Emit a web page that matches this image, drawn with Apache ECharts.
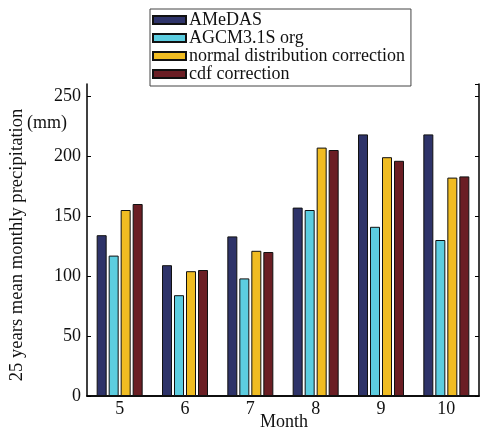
<!DOCTYPE html>
<html><head><meta charset="utf-8">
<script src="https://cdn.jsdelivr.net/npm/echarts@6/dist/echarts.min.js"></script>
<style>html,body{margin:0;padding:0;background:#fff}#c{width:480px;height:430px}</style>
</head><body><div id="c"></div>
<script>
const months = ['5','6','7','8','9','10'];
const amedas = [134, 109, 133, 157, 218, 218];
const agcmOrg = [117, 84, 98, 155, 141, 130];
const normalCorr = [155, 104, 121, 207, 199, 182];
const cdfCorr = [160, 105, 120, 205, 196, 183];
const seriesNames = ['AMeDAS','AGCM3.1S org','normal distribution correction','cdf correction'];
const yTitle = '25 years mean monthly precipitation';
const yUnit = '(mm)';
const xTitle = 'Month';
const colors = ['#2e3369','#5ccde0','#f0bc22','#6b1e24'];
const font = 'Liberation Serif';
const chart = echarts.init(document.getElementById('c'));
const mk = (name, data, i) => ({
  name, type:'bar', data, barWidth:10, barGap:'20%',
  itemStyle:{color:colors[i], borderColor:'#111', borderWidth:1},
  xAxisIndex:0, yAxisIndex:0
});
chart.setOption({
  animation:false,
  textStyle:{fontFamily:font},
  legend:{
    orient:'vertical', left:150, top:9, padding:[2,6,3,2],
    itemWidth:33, itemHeight:8, itemGap:0, icon:'rect',
    borderColor:'#444', borderWidth:1,
    textStyle:{fontFamily:font, fontSize:18, color:'#111', lineHeight:17.5, padding:[0,0,0,-2]},
    data:seriesNames
  },
  grid:{left:87, right:1, top:84, bottom:34, outerBoundsMode:'none', containLabel:false},
  xAxis:[{
    type:'category', data:months, position:'bottom',
    axisLine:{lineStyle:{color:'#000', width:1.5}},
    axisTick:{alignWithLabel:true, inside:true, length:4, lineStyle:{color:'#000'}},
    axisLabel:{fontFamily:font, fontSize:18, color:'#111', margin:4}
  },{
    type:'category', data:months, position:'top',
    axisLine:{lineStyle:{color:'#000', width:1.5}},
    axisTick:{alignWithLabel:true, inside:true, length:4, lineStyle:{color:'#000'}},
    axisLabel:{show:false}
  }],
  yAxis:[{
    type:'value', min:0, max:260, interval:50, position:'left',
    axisLine:{show:true, lineStyle:{color:'#000', width:1.5}},
    axisTick:{show:true, inside:true, length:4, lineStyle:{color:'#000'}},
    axisLabel:{fontFamily:font, fontSize:18, color:'#111', margin:6, showMaxLabel:false},
    splitLine:{show:false}
  },{
    type:'value', min:0, max:260, interval:50, position:'right',
    axisLine:{show:true, lineStyle:{color:'#000', width:1.5}},
    axisTick:{show:true, inside:true, length:4, lineStyle:{color:'#000'}},
    axisLabel:{show:false}, splitLine:{show:false}
  }],
  graphic:[
    {type:'text', x:17, y:245, rotation:Math.PI/2,
     style:{text:yTitle, font:'18.6px "Liberation Serif"', fill:'#111', align:'center', verticalAlign:'middle'}},
    {type:'text', left:27, top:114, style:{text:yUnit, font:'18px "Liberation Serif"', fill:'#111'}},
    {type:'text', x:284, y:422,
     style:{text:xTitle, font:'18px "Liberation Serif"', fill:'#111', align:'center', verticalAlign:'middle'}}
  ],
  series:[mk(seriesNames[0],amedas,0), mk(seriesNames[1],agcmOrg,1), mk(seriesNames[2],normalCorr,2), mk(seriesNames[3],cdfCorr,3)]
});
</script></body></html>
